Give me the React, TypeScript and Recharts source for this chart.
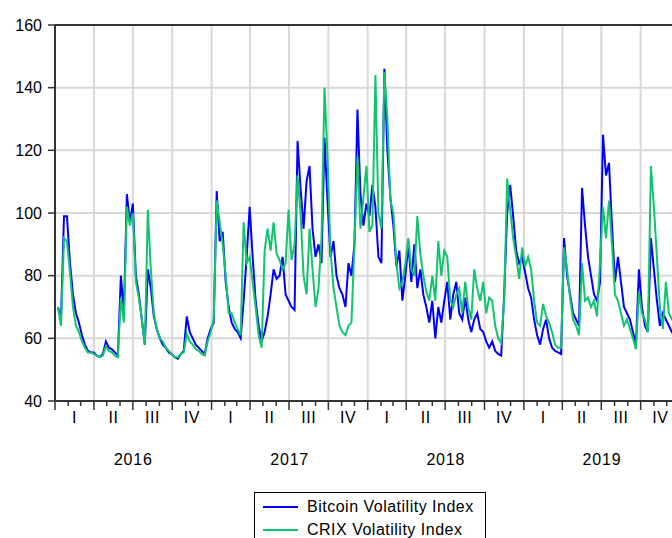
import { LineChart, Line, XAxis, YAxis, CartesianGrid, ReferenceLine } from 'recharts'

// weekly readings, first point in the second week of January 2016
const bitcoinVol = [
  70, 66, 99, 99, 84, 74, 68, 65, 61, 58,
  56, 55.5, 55.5, 54.5, 54, 55, 59, 57, 56.5, 55.5,
  54.5, 80, 68, 106, 97, 103, 80, 74, 66, 58,
  82, 76, 67, 63, 60, 58, 57, 55.5, 55, 54,
  53.5, 55, 56, 67, 62, 60, 58, 57, 56, 55,
  60, 63, 65, 107, 91, 94, 78, 70, 65, 63,
  62, 60, 72, 86, 102, 86, 72, 64, 59, 62,
  67, 74, 82, 79, 80, 86, 74, 72, 70, 69,
  123, 108, 95, 110, 115, 95, 86, 90, 84, 124,
  104, 86, 91, 80, 76, 74, 70, 84, 80, 90,
  133, 106, 96, 103, 99, 109, 102, 86, 84, 146,
  120, 105, 96, 83, 88, 72, 80, 90, 78, 90,
  76, 82, 74, 70, 65, 72, 60, 70, 65, 72,
  78, 66, 74, 78, 68, 66, 73, 66, 62, 66,
  68, 63, 62, 59, 57, 59, 56, 55, 54.5, 74,
  100, 109, 99, 88, 84, 86, 81, 76, 73, 66,
  61, 58, 63, 66, 60, 57, 56, 55.5, 55, 92,
  80, 74, 68, 66, 64, 108, 96, 86, 80, 74,
  72, 78, 125, 112, 116, 96, 78, 86, 78, 70,
  68, 66, 62, 58, 82, 70, 64, 62, 92, 82,
  72, 64, 68, 66, 64, 62, 63,
]

const crixVol = [
  70, 64, 92, 91, 81, 70, 64, 62, 59, 57,
  55.5, 55.5, 55, 54.5, 54, 54.5, 57.5, 56, 55.5, 54.5,
  54, 73, 65, 102, 96, 100, 78, 73, 66, 58,
  101, 82, 68, 63, 60, 59, 57, 56, 55, 54,
  54, 55, 55.5, 61.5, 59, 58, 56.5, 56, 55, 54.5,
  59, 62, 66, 104, 97, 90, 80, 68, 68, 65,
  63, 61, 97, 84, 86, 78, 70, 61, 57, 88,
  95, 88, 97, 87, 85, 82, 84, 101, 85, 90,
  112, 100, 80, 74, 95, 82, 70, 76, 92, 140,
  118, 88, 76, 70, 64, 62, 61, 64, 65, 90,
  118, 95, 105, 115, 94, 96, 144, 100, 95, 145,
  130, 104, 100, 84, 76, 78, 84, 92, 82, 80,
  99, 87, 80, 75, 72, 80, 72, 91, 80, 88,
  86, 72, 70, 74, 76, 68, 78, 70, 66, 82,
  76, 72, 78, 68, 73, 72, 64, 60, 58.5, 72,
  111, 101, 92, 86, 79, 89, 83, 86, 82, 72,
  65, 64, 71, 67, 65, 62, 58, 57, 57, 89,
  82, 73, 66, 64, 61, 84, 72, 73, 70, 72,
  67, 84, 102, 92, 104, 90, 74, 72, 68, 64,
  66, 63, 60, 56.5, 75, 68, 66, 62, 115, 102,
  86, 70, 63, 78, 68, 66, 65,
]

const years = [2016, 2017, 2018, 2019]
const quarterLabels = ['I', 'II', 'III', 'IV']
const yTicks = [40, 60, 80, 100, 120, 140, 160]

const t0 = Date.UTC(2016, 0, 1)
const dayOf = (y: number, m: number) => (Date.UTC(y, m, 1) - t0) / 86400000
const xDomain = [0, dayOf(2020, 0)]

const data = bitcoinVol.map((v, i) => ({ day: (i + 1) * 7, btc: v, crix: crixVol[i] }))

type TickInfo = { kind: 'month' | 'quarter' | 'year'; major?: boolean; label?: string }
const tickInfo = new Map<number, TickInfo>()
const quarterStarts: number[] = []
years.forEach((y) => {
  for (let m = 0; m < 12; m++) {
    tickInfo.set(dayOf(y, m), { kind: 'month', major: m % 3 === 0 })
    if (m % 3 === 0) quarterStarts.push(dayOf(y, m))
  }
  quarterLabels.forEach((q, i) => {
    tickInfo.set((dayOf(y, i * 3) + dayOf(y, i * 3 + 3)) / 2, { kind: 'quarter', label: q })
  })
  tickInfo.set((dayOf(y, 0) + dayOf(y + 1, 0)) / 2 + 0.01, { kind: 'year', label: String(y) })
})
const xTicks = Array.from(tickInfo.keys()).sort((a, b) => a - b)

const font = '"Liberation Sans", Arial, sans-serif'

const XTick = (props: any) => {
  const { x, y, payload } = props
  const info = tickInfo.get(payload.value)
  if (!info) return <g />
  if (info.kind === 'month') {
    return <line x1={x} x2={x} y1={y} y2={y + (info.major ? 9 : 5)} stroke="#333" strokeWidth={1.5} />
  }
  return (
    <text x={x} y={y + (info.kind === 'quarter' ? 22 : 64)} textAnchor="middle" fontSize={16}
      fontFamily={font} fill="#000" letterSpacing={info.kind === 'year' ? 0.8 : 0.5}>
      {info.label}
    </text>
  )
}

// quarter gridlines, placed with the plot area the grid hands us
const quarterGrid = ({ offset }: any) =>
  quarterStarts.map((d) => offset.left + ((d - xDomain[0]) / (xDomain[1] - xDomain[0])) * offset.width)

export default function App() {
  return (
    <div style={{ position: 'fixed', left: 0, top: 0, width: 672, height: 538, overflow: 'hidden', background: '#fff', fontFamily: font }}>
      <LineChart width={700} height={538} data={data} margin={{ top: 25, right: 20, left: 5, bottom: 97 }}>
        <CartesianGrid stroke="#d9d9d9" strokeWidth={2} verticalCoordinatesGenerator={quarterGrid} />
        <XAxis
          type="number"
          dataKey="day"
          domain={xDomain}
          ticks={xTicks}
          interval={0}
          tick={XTick}
          tickSize={0}
          tickMargin={0}
          tickLine={false}
          axisLine={{ stroke: '#333', strokeWidth: 2 }}
          height={40}
          allowDataOverflow
        />
        <YAxis
          domain={[40, 160]}
          ticks={yTicks}
          interval={0}
          width={50}
          tickSize={7}
          tickMargin={6}
          tick={{ fill: '#000', fontSize: 16, fontFamily: font }}
          tickLine={{ stroke: '#333', strokeWidth: 1.5 }}
          axisLine={{ stroke: '#333', strokeWidth: 2 }}
        />
        <ReferenceLine y={160} stroke="#333" strokeWidth={2} />
        <Line type="linear" dataKey="btc" stroke="#0000ff" strokeWidth={2} dot={false} isAnimationActive={false} />
        <Line type="linear" dataKey="crix" stroke="#12c46e" strokeWidth={2} dot={false} isAnimationActive={false} />
      </LineChart>
      <div style={{ position: 'absolute', left: 254, top: 492, width: 230, height: 52, border: '1px solid #000', background: '#fff', fontSize: 16, letterSpacing: 0.5 }}>
        {[['Bitcoin Volatility Index', '#0000ff'], ['CRIX Volatility Index', '#12c46e']].map(([name, color], i) => (
          <div key={name} style={{ position: 'absolute', left: 8, top: 4 + i * 23, height: 20, display: 'flex', alignItems: 'center' }}>
            <div style={{ width: 35, height: 2, background: color, marginRight: 9 }} />
            <span style={{ color: '#000', whiteSpace: 'nowrap' }}>{name}</span>
          </div>
        ))}
      </div>
    </div>
  )
}
